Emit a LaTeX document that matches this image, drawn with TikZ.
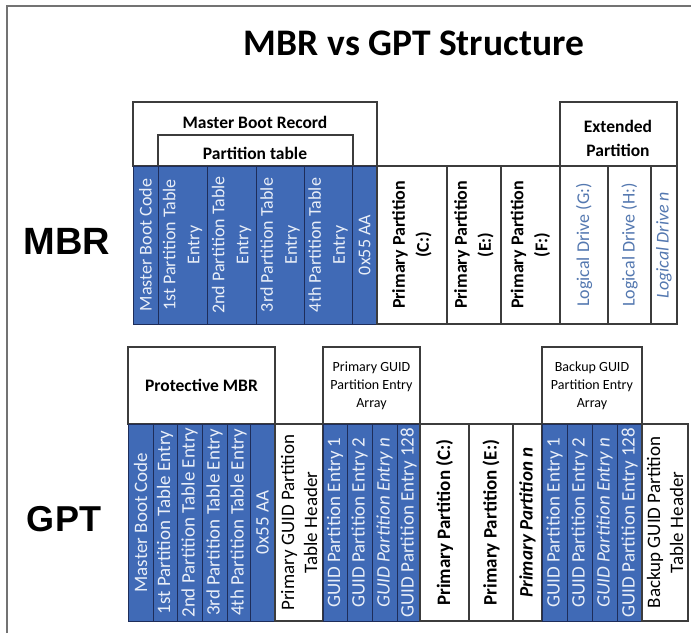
\documentclass[tikz,border=0pt]{standalone}
\usepackage{fontspec}
\setmainfont{Carlito}
\newfontfamily\labfont{Liberation Sans}
\definecolor{cellblue}{RGB}{64,106,182}
\definecolor{navy}{RGB}{30,45,90}
\definecolor{edge}{RGB}{60,60,60}
\definecolor{bluetext}{RGB}{232,238,248}
\definecolor{drivetext}{RGB}{84,120,176}
\definecolor{framegray}{RGB}{115,115,115}
\newcommand{\cellbox}[6]{\node[#6, minimum width={#3-#2}, minimum height={#5-#4}] (#1) at ({(#2+#3)/2},{(#4+#5)/2}) {};}
\begin{document}
\begin{tikzpicture}[x=1pt,y=-1pt,
  bluecell/.style={draw=navy, fill=cellblue, line width=1pt, inner sep=0pt, outer sep=0pt},
  whitecell/.style={draw=edge, fill=white, line width=1.1pt, inner sep=0pt, outer sep=0pt},
  hdrbox/.style={draw=edge, fill=white, line width=1.1pt, inner sep=0pt, outer sep=0pt},
  mtext/.style={rotate=90, align=center, inner sep=0pt, font=\fontsize{18}{24}\selectfont},
  gtext/.style={rotate=90, align=center, inner sep=0pt, font=\fontsize{19}{23}\selectfont},
  onblue/.style={text=bluetext},
  hdrtext/.style={align=center, inner sep=0pt, font=\bfseries\fontsize{17.5}{23}\selectfont},
  arrtext/.style={align=center, inner sep=0pt, font=\fontsize{14}{18}\selectfont},
  bigtext/.style={inner sep=0pt, font=\labfont\bfseries\fontsize{38}{40}\selectfont}
]
\useasboundingbox (0,0) rectangle (691,633);
\draw[framegray, line width=1.5pt] (7,633) -- (7,6) -- (691,6);

% title and row labels
\node[inner sep=0pt, font=\bfseries\fontsize{37.5}{40}\selectfont] (title) at (414,43) {MBR vs GPT Structure};
\node[bigtext] (lmbr) at (67,241) {MBR};
\node[bigtext, font=\labfont\bfseries\fontsize{36}{40}\selectfont] (lgpt) at (64,519) {GPT};

% ---------------- MBR ----------------
\cellbox{hmbr}{133}{377}{102}{166}{hdrbox}
\cellbox{hpt}{158}{353}{135}{166}{hdrbox}
\cellbox{hext}{560}{677}{102}{166}{hdrbox}
\node[hdrtext] (thmbr) at (255,122) {Master Boot Record};
\node[hdrtext] (thpt) at (255,153) {Partition table};
\node[hdrtext, font=\bfseries\fontsize{17.5}{24}\selectfont] (thext) at (618,138) {Extended\\Partition};

\cellbox{mbc}{133}{158}{166}{324}{bluecell}
\cellbox{mp1}{158}{207}{166}{324}{bluecell}
\cellbox{mp2}{207}{256}{166}{324}{bluecell}
\cellbox{mp3}{256}{304}{166}{324}{bluecell}
\cellbox{mp4}{304}{352}{166}{324}{bluecell}
\cellbox{msig}{352}{377}{166}{324}{bluecell}
\cellbox{mpc}{377}{447}{166}{324}{whitecell}
\cellbox{mpe}{447}{501}{166}{324}{whitecell}
\cellbox{mpf}{501}{560}{166}{324}{whitecell}
\cellbox{mlg}{560}{608}{166}{324}{whitecell}
\cellbox{mlh}{608}{651}{166}{324}{whitecell}
\cellbox{mln}{651}{677}{166}{324}{whitecell}

\node[mtext, onblue] (tmbc) at (mbc.center) {Master Boot Code};
\node[mtext, onblue] (tmp1) at (mp1.center) {1st Partition Table\\Entry};
\node[mtext, onblue] (tmp2) at (mp2.center) {2nd Partition Table\\Entry};
\node[mtext, onblue] (tmp3) at (mp3.center) {3rd Partition Table\\Entry};
\node[mtext, onblue] (tmp4) at (mp4.center) {4th Partition Table\\Entry};
\node[mtext, onblue] (tmsig) at (msig.center) {0x55 AA};
\node[mtext, font=\bfseries\fontsize{18}{24}\selectfont] (tmpc) at (mpc.center) {Primary Partition\\(C:)};
\node[mtext, font=\bfseries\fontsize{18}{24}\selectfont] (tmpe) at (mpe.center) {Primary Partition\\(E:)};
\node[mtext, font=\bfseries\fontsize{18}{24}\selectfont] (tmpf) at (mpf.center) {Primary Partition\\(F:)};
\node[mtext, text=drivetext] (tmlg) at (mlg.center) {Logical Drive (G:)};
\node[mtext, text=drivetext] (tmlh) at (mlh.center) {Logical Drive (H:)};
\node[mtext, text=drivetext, font=\itshape\fontsize{18}{24}\selectfont] (tmln) at (mln.center) {Logical Drive n};

% ---------------- GPT ----------------
\cellbox{hpmbr}{128}{275}{347}{424}{hdrbox}
\cellbox{hparr}{323}{420}{347}{424}{hdrbox}
\cellbox{hbarr}{542}{642}{347}{424}{hdrbox}
\node[hdrtext] (thpmbr) at (hpmbr.center) {Protective MBR};
\node[arrtext] (thparr) at (hparr.center) {Primary GUID\\Partition Entry\\Array};
\node[arrtext] (thbarr) at (hbarr.center) {Backup GUID\\Partition Entry\\Array};

\cellbox{gmbc}{128}{153}{424}{621}{bluecell}
\cellbox{gp1}{153}{177}{424}{621}{bluecell}
\cellbox{gp2}{177}{202}{424}{621}{bluecell}
\cellbox{gp3}{202}{227}{424}{621}{bluecell}
\cellbox{gp4}{227}{250}{424}{621}{bluecell}
\cellbox{gsig}{250}{275}{424}{621}{bluecell}
\cellbox{ghdr}{275}{323}{424}{621}{whitecell}
\cellbox{ge1}{323}{347}{424}{621}{bluecell}
\cellbox{ge2}{347}{372}{424}{621}{bluecell}
\cellbox{gen}{372}{397}{424}{621}{bluecell}
\cellbox{ge128}{397}{420}{424}{621}{bluecell}
\cellbox{gpc}{420}{469}{424}{621}{whitecell}
\cellbox{gpe}{469}{513}{424}{621}{whitecell}
\cellbox{gpn}{513}{542}{424}{621}{whitecell}
\cellbox{be1}{542}{567}{424}{621}{bluecell}
\cellbox{be2}{567}{592}{424}{621}{bluecell}
\cellbox{ben}{592}{617}{424}{621}{bluecell}
\cellbox{be128}{617}{642}{424}{621}{bluecell}
\cellbox{bhdr}{642}{688}{424}{621}{whitecell}

\node[gtext, onblue] (tgmbc) at (gmbc.center) {Master Boot Code};
\node[gtext, onblue] (tgp1) at (gp1.center) {1st Partition Table Entry};
\node[gtext, onblue] (tgp2) at (gp2.center) {2nd Partition Table Entry};
\node[gtext, onblue] (tgp3) at (gp3.center) {3rd Partition Table Entry};
\node[gtext, onblue] (tgp4) at (gp4.center) {4th Partition Table Entry};
\node[gtext, onblue] (tgsig) at (gsig.center) {0x55 AA};
\node[gtext] (tghdr) at (ghdr.center) {Primary GUID Partition\\Table Header};
\node[gtext, onblue] (tge1) at (ge1.center) {GUID Partition Entry 1};
\node[gtext, onblue] (tge2) at (ge2.center) {GUID Partition Entry 2};
\node[gtext, onblue, font=\itshape\fontsize{19}{23}\selectfont] (tgen) at (gen.center) {GUID Partition Entry n};
\node[gtext, onblue] (tge128) at (ge128.center) {GUID Partition Entry 128};
\node[gtext, font=\bfseries\fontsize{19}{23}\selectfont] (tgpc) at (gpc.center) {Primary Partition (C:)};
\node[gtext, font=\bfseries\fontsize{19}{23}\selectfont] (tgpe) at (gpe.center) {Primary Partition (E:)};
\node[gtext, font=\bfseries\itshape\fontsize{19}{23}\selectfont] (tgpn) at (gpn.center) {Primary Partition n};
\node[gtext, onblue] (tbe1) at (be1.center) {GUID Partition Entry 1};
\node[gtext, onblue] (tbe2) at (be2.center) {GUID Partition Entry 2};
\node[gtext, onblue, font=\itshape\fontsize{19}{23}\selectfont] (tben) at (ben.center) {GUID Partition Entry n};
\node[gtext, onblue] (tbe128) at (be128.center) {GUID Partition Entry 128};
\node[gtext] (tbhdr) at (bhdr.center) {Backup GUID Partition\\Table Header};
\end{tikzpicture}
\end{document}
